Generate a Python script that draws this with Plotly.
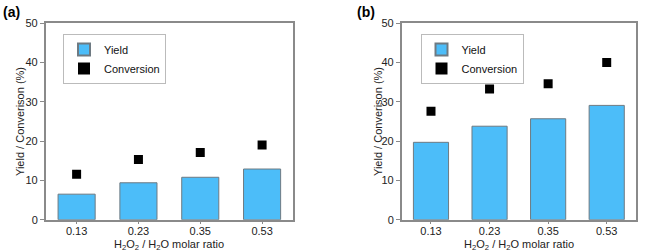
import plotly.graph_objects as go

categories = ["0.13", "0.23", "0.35", "0.53"]
yield_a = [6.5, 9.4, 10.8, 12.9]
conv_a = [11.6, 15.3, 17.1, 19.0]
yield_b = [19.7, 23.8, 25.7, 29.1]
conv_b = [27.6, 33.3, 34.6, 40.0]
y_ticks = [0, 10, 20, 30, 40, 50]

W, H = 647, 252
BAR = "#4CBDF9"
BAR_LINE = "#6E7A82"
AX = "#8A8A8A"
TXT = "#222222"
FONT = "Liberation Sans, Arial, sans-serif"

fig = go.Figure()

def add_panel(yv, cv, xa, ya, leg):
    fig.add_trace(go.Bar(x=categories, y=yv, name="Yield", marker=dict(color=BAR, line=dict(color=BAR_LINE, width=1)),
                         xaxis=xa, yaxis=ya, legend=leg, width=0.6))
    fig.add_trace(go.Scatter(x=categories, y=cv, name="Conversion", mode="markers",
                             marker=dict(symbol="square", size=9, color="black"),
                             xaxis=xa, yaxis=ya, legend=leg))

add_panel(yield_a, conv_a, "x", "y", "legend")
add_panel(yield_b, conv_b, "x2", "y2", "legend2")

ydom = [1 - 219.7 / H, 1 - 23.3 / H]
xdom_a = [45.7 / W, 293 / W]
xdom_b = [401.7 / W, 636 / W]

xcommon = dict(showline=True, linecolor=AX, linewidth=1.5, mirror=True, ticks="outside", ticklen=3,
               tickcolor=AX, tickfont=dict(size=11, color=TXT), showgrid=False, automargin=False,
               ticklabelstandoff=-3)
ycommon = dict(range=[0, 50], tickvals=y_ticks, showline=True, linecolor=AX, linewidth=1.5, mirror=True,
               ticks="outside", ticklen=4, tickcolor=AX, tickfont=dict(size=11, color=TXT),
               showgrid=False, zeroline=False, automargin=False)

legcommon = dict(bgcolor="white", bordercolor="#BBBBBB", borderwidth=1, font=dict(size=11, color="#111"),
                 xanchor="left", yanchor="top", tracegroupgap=0, itemsizing="constant")

xtitle = "H<sub>2</sub>O<sub>2</sub> / H<sub>2</sub>O molar ratio"
ytitle = "Yield / Converison (%)"

def px_x(v):
    return v / W

def px_y(v):
    return 1 - v / H

annotations = [
    dict(text="<b>(a)</b>", x=px_x(1), y=px_y(2), xanchor="left", yanchor="top", font=dict(size=14, color="black")),
    dict(text="<b>(b)</b>", x=px_x(355), y=px_y(2), xanchor="left", yanchor="top", font=dict(size=14, color="black")),
    dict(text=xtitle, x=px_x(169), y=px_y(245), xanchor="center", yanchor="middle", font=dict(size=11, color=TXT)),
    dict(text=xtitle, x=px_x(519), y=px_y(245), xanchor="center", yanchor="middle", font=dict(size=11, color=TXT)),
    dict(text=ytitle, x=px_x(20), y=px_y(122), xanchor="center", yanchor="middle", textangle=-90, font=dict(size=11, color=TXT)),
    dict(text=ytitle, x=px_x(378), y=px_y(122), xanchor="center", yanchor="middle", textangle=-90, font=dict(size=11, color=TXT)),
]
for a in annotations:
    a.update(xref="paper", yref="paper", showarrow=False)

fig.update_layout(
    width=W, height=H, margin=dict(l=0, r=0, t=0, b=0, autoexpand=False),
    paper_bgcolor="white", plot_bgcolor="white",
    font=dict(family=FONT, color=TXT),
    bargap=0.4, showlegend=True,
    xaxis=dict(domain=xdom_a, anchor="y", **xcommon),
    yaxis=dict(domain=ydom, anchor="x", **ycommon),
    xaxis2=dict(domain=xdom_b, anchor="y2", **xcommon),
    yaxis2=dict(domain=ydom, anchor="x2", **ycommon),
    legend=dict(x=63 / W, y=1 - 34 / H, **legcommon),
    legend2=dict(x=420.5 / W, y=1 - 34 / H, **legcommon),
    annotations=annotations,
)

fig.write_html("out.html", config={"displayModeBar": False},
               post_script="document.body.style.margin='0';document.body.style.overflow='hidden';")
